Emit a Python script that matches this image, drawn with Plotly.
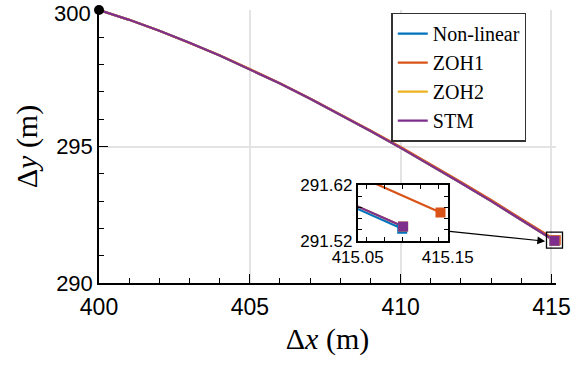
import plotly.graph_objects as go

# ---- data ----
x_nl = [400, 401, 402, 403, 404, 405, 406, 407, 408, 409, 410, 411, 412, 413, 414, 415, 415.0995]
y_nl = [300.00, 299.64, 299.24, 298.80, 298.33, 297.83, 297.31, 296.75, 296.17, 295.57, 294.95,
        294.315, 293.665, 293.00, 292.32, 291.613, 291.542]

x_zoh1 = [400, 401, 402, 403, 404, 405, 406, 407, 408, 409, 410, 411, 412, 413, 414, 415, 415.142]
y_zoh1 = [300.00, 299.64, 299.24, 298.80, 298.34, 297.84, 297.32, 296.76, 296.19, 295.59, 294.98,
          294.35, 293.70, 293.04, 292.37, 291.672, 291.571]

x_zoh2 = [400, 401, 402, 403, 404, 405, 406, 407, 408, 409, 410, 411, 412, 413, 414, 415, 415.1005]
y_zoh2 = [300.00, 299.64, 299.24, 298.80, 298.33, 297.83, 297.31, 296.75, 296.17, 295.57, 294.95,
          294.315, 293.665, 293.00, 292.32, 291.617, 291.546]

x_stm = [400, 401, 402, 403, 404, 405, 406, 407, 408, 409, 410, 411, 412, 413, 414, 415, 415.1005]
y_stm = [300.00, 299.64, 299.24, 298.80, 298.33, 297.83, 297.31, 296.75, 296.17, 295.57, 294.95,
         294.315, 293.665, 293.00, 292.32, 291.617, 291.546]

names = ["Non-linear", "ZOH1", "ZOH2", "STM"]
colors = ["#0072BD", "#D95319", "#EDB120", "#7E2F8E"]
series = [(x_nl, y_nl), (x_zoh1, y_zoh1), (x_zoh2, y_zoh2), (x_stm, y_stm)]

start_x = [400]
start_y = [300]
zoom_center_x = [415.1]
zoom_center_y = [291.57]

main_xticks = [400, 405, 410, 415]
main_xminor = [401, 402, 403, 404, 406, 407, 408, 409, 411, 412, 413, 414]
main_yticks = [290, 295, 300]
main_yticktext = ["290", "295", ""]   # top label drawn as annotation so it stays inside the page
top_ylabel = "300"
main_yminor = [291, 292, 293, 294, 296, 297, 298, 299]
inset_xticks = [415.05, 415.15]
inset_xminor = [415.06, 415.08, 415.10, 415.12, 415.14]
inset_yticks = [291.52, 291.62]
inset_yminor = [291.54, 291.56, 291.58, 291.60]

SANS = "Liberation Sans, Arial, sans-serif"
SERIF = "Liberation Serif, Times New Roman, serif"

fig = go.Figure()

for (xs, ys), n, c in zip(series, names, colors):
    fig.add_trace(go.Scatter(x=xs, y=ys, mode="lines", name=n,
                             line=dict(color=c, width=2.2), xaxis="x", yaxis="y"))
for (xs, ys), n, c in zip(series, names, colors):
    fig.add_trace(go.Scatter(x=[xs[-1]], y=[ys[-1]], mode="markers", showlegend=False,
                             marker=dict(symbol="square", size=10, color=c), cliponaxis=False,
                             xaxis="x", yaxis="y"))
fig.add_trace(go.Scatter(x=start_x, y=start_y, mode="markers", showlegend=False,
                         marker=dict(symbol="circle", size=10, color="black"), cliponaxis=False,
                         xaxis="x", yaxis="y"))
fig.add_trace(go.Scatter(x=zoom_center_x, y=zoom_center_y, mode="markers", showlegend=False,
                         marker=dict(symbol="square-open", size=16, color="black",
                                     line=dict(width=1.3, color="black")),
                         cliponaxis=False, xaxis="x", yaxis="y"))

for (xs, ys), n, c in zip(series, names, colors):
    fig.add_trace(go.Scatter(x=xs, y=ys, mode="lines", showlegend=False,
                             line=dict(color=c, width=2.2), xaxis="x2", yaxis="y2"))
for (xs, ys), n, c in zip(series, names, colors):
    fig.add_trace(go.Scatter(x=[xs[-1]], y=[ys[-1]], mode="markers", showlegend=False,
                             marker=dict(symbol="square", size=10, color=c),
                             xaxis="x2", yaxis="y2"))

fig.update_layout(
    width=574, height=365,
    margin=dict(l=99, r=18, t=10, b=82, autoexpand=False),
    plot_bgcolor="white", paper_bgcolor="white",
    showlegend=True,
    legend=dict(x=0.64, y=0.99, xanchor="left", yanchor="top",
                bgcolor="white", bordercolor="#333333", borderwidth=1.3,
                font=dict(family=SERIF, size=20, color="black"),
                itemwidth=30, tracegroupgap=0),
    xaxis=dict(domain=[0, 1], range=[400, 415.15], tickvals=main_xticks, automargin=False,
               ticklabeloverflow="allow", ticklabelstandoff=3,
               showline=True, linecolor="black", linewidth=1.5,
               ticks="inside", ticklen=9, tickwidth=1.3, tickcolor="black",
               minor=dict(tickmode="array", tickvals=main_xminor, ticks="inside", ticklen=5,
                          tickwidth=1.2, tickcolor="black", showgrid=False),
               showgrid=True, gridcolor="#e3e3e3", gridwidth=1.5, zeroline=False,
               tickfont=dict(family=SANS, size=23, color="black"),
               title=dict(text="Δ<i>x</i> (m)", font=dict(family=SERIF, size=30, color="black"), standoff=9)),
    yaxis=dict(domain=[0, 1], range=[290, 300], tickvals=main_yticks, ticktext=main_yticktext,
               automargin=False, ticklabeloverflow="allow",
               showline=True, linecolor="black", linewidth=1.5,
               ticks="inside", ticklen=9, tickwidth=1.3, tickcolor="black",
               minor=dict(tickmode="array", tickvals=main_yminor, ticks="inside", ticklen=5,
                          tickwidth=1.2, tickcolor="black", showgrid=False),
               showgrid=True, gridcolor="#e3e3e3", gridwidth=1.5, zeroline=False,
               tickfont=dict(family=SANS, size=22, color="black"),
               title=dict(text="Δ<i>y</i> (m)", font=dict(family=SERIF, size=30, color="black"), standoff=10)),
    xaxis2=dict(domain=[0.566, 0.763], anchor="y2", range=[415.05, 415.15], tickvals=inset_xticks,
                ticktext=["415.05", "415.15"], automargin=False, ticklabeloverflow="allow",
                showline=True, mirror="ticks", linecolor="black", linewidth=1.8,
                ticks="inside", ticklen=4, tickwidth=1.2, tickcolor="black",
                minor=dict(tickmode="array", tickvals=inset_xminor, ticks="inside", ticklen=4,
                           tickcolor="black", showgrid=False),
                showgrid=False, zeroline=False,
                tickfont=dict(family=SANS, size=17, color="black")),
    yaxis2=dict(domain=[0.154, 0.359], anchor="x2", range=[291.52, 291.62], tickvals=inset_yticks,
                ticktext=["291.52", "291.62"], automargin=False, ticklabeloverflow="allow",
                showline=True, mirror="ticks", linecolor="black", linewidth=1.8,
                ticks="inside", ticklen=4, tickwidth=1.2, tickcolor="black",
                minor=dict(tickmode="array", tickvals=inset_yminor, ticks="inside", ticklen=4,
                           tickcolor="black", showgrid=False),
                showgrid=False, zeroline=False,
                tickfont=dict(family=SANS, size=17, color="black")),
)

fig.add_shape(type="rect", xref="x2 domain", yref="y2 domain", x0=0, x1=1, y0=0, y1=1,
              fillcolor="white", line=dict(width=0), layer="below")

# top y tick label, kept just inside the page like in the reference
fig.add_annotation(x=0, xref="paper", y=main_yticks[-1], yref="y", text=top_ylabel,
                   showarrow=False, xanchor="right", yanchor="top", xshift=-7, yshift=10,
                   borderpad=0, font=dict(family=SANS, size=22, color="black"))

fig.add_annotation(x=414.79, y=291.53, xref="x", yref="y", ax=-97, ay=-10,
                   axref="pixel", ayref="pixel", text="", showarrow=True,
                   arrowhead=2, arrowsize=1.3, arrowwidth=1.2, arrowcolor="black")

fig.write_html("out.html", config={"displayModeBar": False},
               post_script="document.body.style.margin='0';document.body.style.overflow='hidden';")
